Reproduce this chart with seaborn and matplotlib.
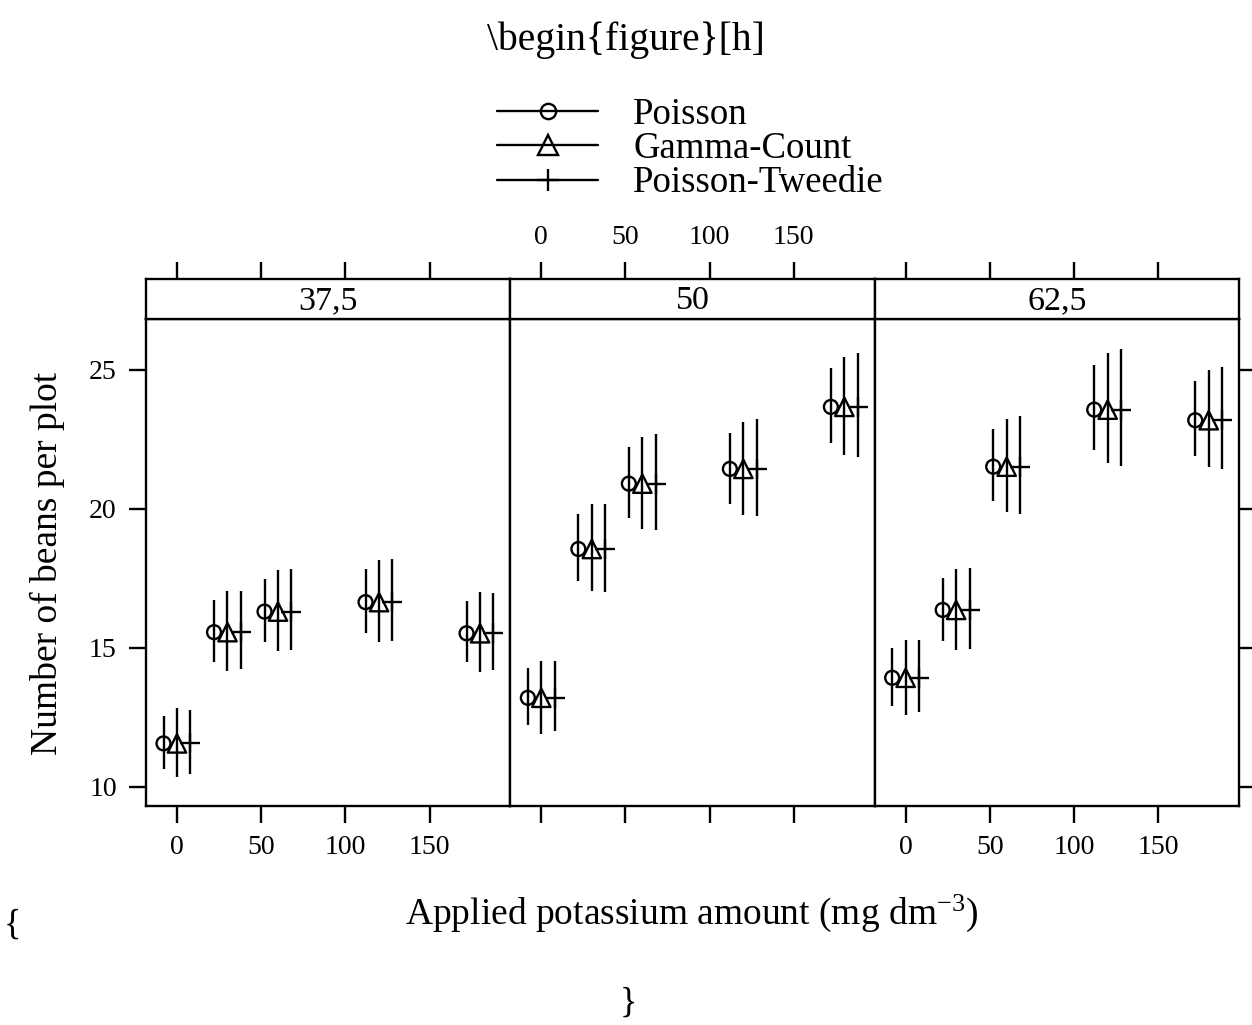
import pandas as pd
import matplotlib
matplotlib.use("Agg")
import matplotlib.pyplot as plt
from matplotlib.lines import Line2D
import seaborn as sns

nitrogen = ["37,5", "50", "62,5"]
potassium = [0, 30, 60, 120, 180]
models = ["Poisson", "Gamma-Count", "Poisson-Tweedie"]

# fitted means, one row per nitrogen level
fit_poisson = [[11.56, 15.56, 16.30, 16.64, 15.52],
               [13.20, 18.55, 20.90, 21.43, 23.66],
               [13.92, 16.36, 21.51, 23.56, 23.18]]
fit_gamma = [[11.56, 15.56, 16.30, 16.64, 15.52],
             [13.20, 18.55, 20.90, 21.43, 23.66],
             [13.92, 16.36, 21.51, 23.56, 23.18]]
fit_tweedie = [[11.56, 15.56, 16.30, 16.64, 15.52],
               [13.20, 18.55, 20.90, 21.43, 23.66],
               [13.92, 16.36, 21.51, 23.56, 23.18]]

lwr_poisson = [[10.64, 14.50, 15.22, 15.54, 14.47],
               [12.22, 17.41, 19.67, 20.16, 22.35],
               [12.90, 15.25, 20.27, 22.11, 21.90]]
upr_poisson = [[12.55, 16.72, 17.48, 17.83, 16.67],
               [14.26, 19.81, 22.22, 22.73, 25.06],
               [15.00, 17.52, 22.86, 25.17, 24.58]]
lwr_gamma = [[10.36, 14.16, 14.88, 15.20, 14.13],
             [11.91, 17.04, 19.28, 19.76, 21.92],
             [12.59, 14.92, 19.87, 21.64, 21.49]]
upr_gamma = [[12.82, 17.05, 17.81, 18.15, 16.99],
             [14.53, 20.16, 22.59, 23.12, 25.46],
             [15.29, 17.84, 23.24, 25.61, 24.98]]
lwr_tweedie = [[10.46, 14.23, 14.92, 15.26, 14.19],
               [12.01, 17.02, 19.24, 19.75, 21.86],
               [12.69, 14.95, 19.82, 21.54, 21.42]]
upr_tweedie = [[12.76, 17.05, 17.82, 18.19, 16.98],
               [14.51, 20.18, 22.69, 23.24, 25.61],
               [15.29, 17.86, 23.34, 25.75, 25.11]]

fits = {"Poisson": fit_poisson, "Gamma-Count": fit_gamma, "Poisson-Tweedie": fit_tweedie}
lwrs = {"Poisson": lwr_poisson, "Gamma-Count": lwr_gamma, "Poisson-Tweedie": lwr_tweedie}
uprs = {"Poisson": upr_poisson, "Gamma-Count": upr_gamma, "Poisson-Tweedie": upr_tweedie}
dodge = {"Poisson": -8, "Gamma-Count": 0, "Poisson-Tweedie": 8}

rows = []
for m in models:
    for i, n in enumerate(nitrogen):
        for j, k in enumerate(potassium):
            rows.append({"model": m, "nitrogen": n, "K": k,
                         "xpos": k + dodge[m],
                         "fit": fits[m][i][j],
                         "lwr": lwrs[m][i][j],
                         "upr": uprs[m][i][j]})
df = pd.DataFrame(rows)

sns.set_style("ticks")
plt.rcParams["font.family"] = ["Liberation Serif", "DejaVu Serif"]
plt.rcParams["mathtext.fontset"] = "custom"
plt.rcParams["mathtext.rm"] = "Liberation Serif"
plt.rcParams["mathtext.default"] = "regular"
plt.rcParams["text.color"] = "black"
plt.rcParams["axes.labelcolor"] = "black"
plt.rcParams["xtick.color"] = "black"
plt.rcParams["ytick.color"] = "black"
plt.rcParams["axes.edgecolor"] = "black"

W, H = 1252, 1025
fig = plt.figure(figsize=(W / 100, H / 100), dpi=100)

left, right = 146, 1239
pw = (right - left) / 3
top_plot, bot_plot = 319, 806
strip_top = 279
lw = 1.7

styles = {
    "Poisson": dict(marker="o", s=100, facecolor="none", edgecolor="k"),
    "Gamma-Count": dict(marker="^", s=175, facecolor="none", edgecolor="k"),
    "Poisson-Tweedie": dict(marker="+", s=190),
}

for i, n in enumerate(nitrogen):
    x0 = (left + i * pw) / W
    ax = fig.add_axes([x0, 1 - bot_plot / H, pw / W, (bot_plot - top_plot) / H])
    sax = fig.add_axes([x0, 1 - top_plot / H, pw / W, (top_plot - strip_top) / H])

    for m in models:
        sub = df[(df["nitrogen"] == n) & (df["model"] == m)]
        ax.vlines(sub["xpos"], sub["lwr"], sub["upr"], color="k", lw=lw)
        sns.scatterplot(data=sub, x="xpos", y="fit", color="k", linewidth=lw,
                        ax=ax, legend=False, zorder=3, **styles[m])

    ax.set_xlim(-18.4, 198)
    ax.set_ylim(9.31, 26.82)
    ax.set_xlabel("")
    ax.set_ylabel("")
    ax.set_xticks([0, 50, 100, 150])
    ax.set_yticks([10, 15, 20, 25])
    ax.tick_params(axis="both", direction="out", length=12, width=lw,
                   labelsize=20, pad=9, color="k", labelcolor="k")
    ax.tick_params(axis="x", labelbottom=(i != 1))
    if i == 0:
        ax.tick_params(axis="y", left=True, labelleft=True, right=False)
    elif i == 2:
        ax.tick_params(axis="y", left=False, labelleft=False,
                       right=True, labelright=False)
    else:
        ax.tick_params(axis="y", left=False, labelleft=False)
    for sp in ax.spines.values():
        sp.set_visible(True)
        sp.set_linewidth(lw)
        sp.set_color("k")

    sax.set_xlim(-18.4, 198)
    sax.set_xticks([0, 50, 100, 150])
    sax.set_yticks([])
    sax.xaxis.tick_top()
    sax.tick_params(axis="x", direction="out", length=12, width=lw,
                    labelsize=20, pad=9, bottom=False, labelbottom=False,
                    top=True, labeltop=(i == 1), color="k", labelcolor="k")
    for sp in sax.spines.values():
        sp.set_visible(True)
        sp.set_linewidth(lw)
        sp.set_color("k")
    sax.text(0.5, 0.45, n, transform=sax.transAxes, ha="center", va="center",
             fontsize=24.5, color="k")

handles = [
    Line2D([], [], color="k", lw=lw, marker="o", markersize=11,
           markerfacecolor="none", markeredgecolor="k", markeredgewidth=lw),
    Line2D([], [], color="k", lw=lw, marker="^", markersize=14,
           markerfacecolor="none", markeredgecolor="k", markeredgewidth=lw),
    Line2D([], [], color="k", lw=lw, marker="+", markersize=16,
           markeredgewidth=lw),
]
fig.legend(handles, models, loc="upper left",
           bbox_to_anchor=(497 / W, 1 - 97 / H), frameon=False,
           fontsize=26.5, handlelength=2.75, handletextpad=0.95,
           labelspacing=0.0, borderpad=0, borderaxespad=0)

fig.text(626 / W, 1 - 40 / H, r"\begin{figure}[h]", ha="center", va="center",
         fontsize=28.5)
fig.text(47 / W, 1 - 563 / H, "Number of beans per plot", rotation=90,
         ha="center", va="center", fontsize=27)
fig.text(692 / W, 1 - 913 / H, r"Applied potassium amount (mg dm$^{-3}$)",
         ha="center", va="center", fontsize=27)
fig.text(12 / W, 1 - 925 / H, "{", ha="center", va="center", fontsize=26)
fig.text(628 / W, 1 - 1003 / H, "}", ha="center", va="center", fontsize=26)

fig.savefig("out.png", dpi=100)
